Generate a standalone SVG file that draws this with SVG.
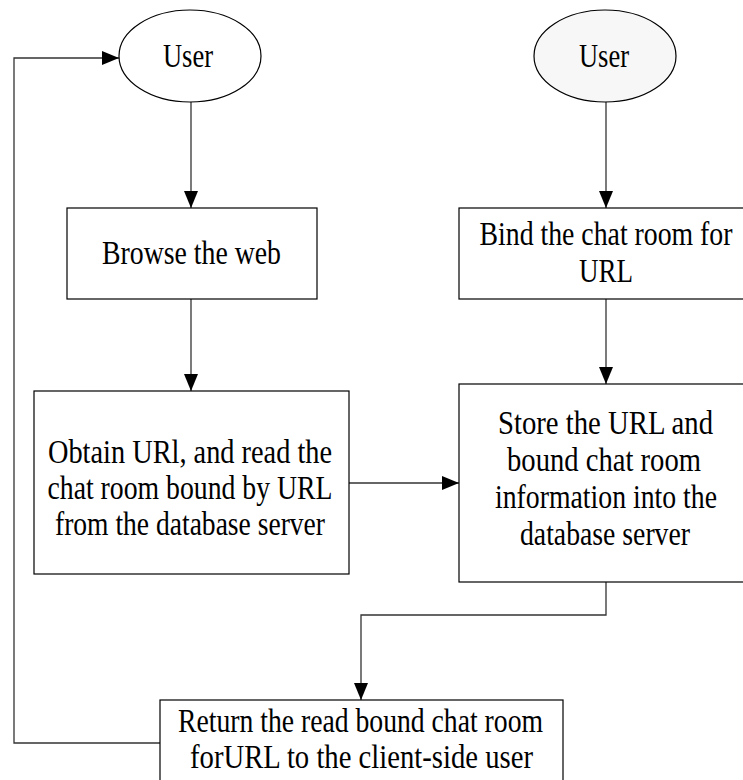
<svg xmlns="http://www.w3.org/2000/svg" width="743" height="780" viewBox="0 0 743 780">
<style>
.box{fill:#fff;stroke:#000;stroke-width:1.2}
.ell{stroke:#000;stroke-width:1.2}
.t{font-size:33px;fill:#000;text-anchor:middle}
.c{fill:none;stroke:#333;stroke-width:1.3}
</style>
<defs>
<marker id="ah" viewBox="0 0 17 14" refX="17" refY="7" markerWidth="17" markerHeight="14" markerUnits="userSpaceOnUse" orient="auto">
<path d="M0,0 L17,7 L0,14 z" fill="#000"/>
</marker>
</defs>
<rect width="743" height="780" fill="#fff"/>
<g id="connectors">
<path class="c" d="M191,102 V208" marker-end="url(#ah)"/>
<path class="c" d="M606,102 V208" marker-end="url(#ah)"/>
<path class="c" d="M191,299 V391" marker-end="url(#ah)"/>
<path class="c" d="M606,299 V384" marker-end="url(#ah)"/>
<path class="c" d="M349,483 H459" marker-end="url(#ah)"/>
<path class="c" d="M606,582 V615 H361 V700" marker-end="url(#ah)"/>
<path class="c" d="M160,743 H14 V58 H119" marker-end="url(#ah)"/>
</g>
<g font-family="'Liberation Serif', 'DejaVu Serif', serif">
<g id="user-left">
<ellipse class="ell" cx="190" cy="56" rx="71" ry="46" fill="#fff"/>
<text class="t" x="188" y="67" textLength="50" lengthAdjust="spacingAndGlyphs">User</text>
</g>
<g id="user-right">
<ellipse class="ell" cx="605" cy="56" rx="71" ry="46" fill="#f7f7f7"/>
<text class="t" x="604" y="67" textLength="50" lengthAdjust="spacingAndGlyphs">User</text>
</g>
<g id="browse">
<rect class="box" x="67" y="208" width="250" height="91"/>
<text class="t" x="191.5" y="264" textLength="179" lengthAdjust="spacingAndGlyphs">Browse the web</text>
</g>
<g id="bind">
<rect class="box" x="459" y="208" width="300" height="91"/>
<text class="t" x="606" y="245" textLength="253" lengthAdjust="spacingAndGlyphs">Bind the chat room for</text>
<text class="t" x="606" y="282" textLength="54" lengthAdjust="spacingAndGlyphs">URL</text>
</g>
<g id="obtain">
<rect class="box" x="34" y="391" width="315" height="183"/>
<text class="t" x="190" y="463" textLength="284" lengthAdjust="spacingAndGlyphs">Obtain URl, and read the</text>
<text class="t" x="190" y="499" textLength="285" lengthAdjust="spacingAndGlyphs">chat room bound by URL</text>
<text class="t" x="190" y="535" textLength="270" lengthAdjust="spacingAndGlyphs">from the database server</text>
</g>
<g id="store">
<rect class="box" x="459" y="384" width="300" height="198"/>
<text class="t" x="605.5" y="434" textLength="215" lengthAdjust="spacingAndGlyphs">Store the URL  and</text>
<text class="t" x="604" y="471" textLength="194" lengthAdjust="spacingAndGlyphs">bound chat room</text>
<text class="t" x="606" y="508" textLength="222" lengthAdjust="spacingAndGlyphs">information into the</text>
<text class="t" x="605" y="545" textLength="170" lengthAdjust="spacingAndGlyphs">database server</text>
</g>
<g id="return">
<rect class="box" x="160" y="700" width="403" height="100"/>
<text class="t" x="360.5" y="732" textLength="365" lengthAdjust="spacingAndGlyphs">Return the read bound chat room</text>
<text class="t" x="361.5" y="768" textLength="343" lengthAdjust="spacingAndGlyphs">forURL to the client-side user</text>
</g>
</g>
</svg>
